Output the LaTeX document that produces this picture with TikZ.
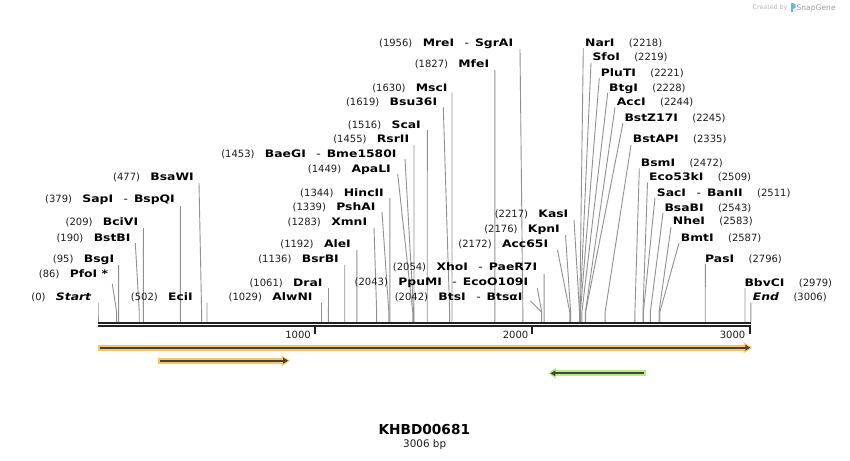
\documentclass[tikz,border=0pt]{standalone}
\usepackage{fontspec}
\setmainfont{DejaVu Sans}
\newfontfamily\nmfont[FakeStretch=1.2]{DejaVu Sans}
\usetikzlibrary{arrows.meta}
\definecolor{cutgray}{RGB}{145,145,145}
\definecolor{numcol}{RGB}{30,30,30}
\definecolor{rulecol}{RGB}{34,34,34}
\definecolor{haloor}{RGB}{250,196,100}
\definecolor{halogr}{RGB}{178,238,128}
\definecolor{corecol}{RGB}{70,66,60}
\definecolor{wmgray}{RGB}{185,185,185}
\definecolor{wmblue}{RGB}{95,185,235}
\tikzset{
  nm/.style={font=\nmfont\fontsize{10.3}{12}\selectfont\bfseries, inner sep=0pt, text=black},
  nu/.style={font=\fontsize{10}{12}\selectfont, inner sep=0pt, text=numcol},
  cut/.style={draw=cutgray, line width=0.9pt},
  rul/.style={draw=rulecol},
  core/.style={draw=corecol, line width=1.7pt},
  tick/.style={draw=rulecol, line width=2pt},
}
\newcommand\dsh{\hspace{10.5pt}{\mdseries-}\hspace{6pt}}
% left-type label: id, name right x, baseline y, number, name, line top x, line top y, bp
\newcommand\labL[8]{%
  \node[nm, anchor=base east] (#1) at (#2,#3) {#5};
  \node[nu, anchor=base east] (#1-n) at ([xshift=-10pt]#1.base west) {#4};
  \coordinate (#1-t) at (#6,#7);
  \coordinate (#1-k) at ({98+0.2172*#8},312);
  \coordinate (#1-b) at ({98+0.2172*#8},322);
  \draw[cut] (#1-t) -- (#1-k) -- (#1-b);}
% right-type label: id, name left x, baseline y, number, name, line top x, line top y, bp
\newcommand\labR[8]{%
  \node[nm, anchor=base west] (#1) at (#2,#3) {#5};
  \node[nu, anchor=base west] (#1-n) at ([xshift=14pt]#1.base east) {#4};
  \coordinate (#1-t) at (#6,#7);
  \coordinate (#1-k) at ({98+0.2172*#8},312);
  \coordinate (#1-b) at ({98+0.2172*#8},322);
  \draw[cut] (#1-t) -- (#1-k) -- (#1-b);}
\begin{document}
\begin{tikzpicture}[x=1pt,y=-1pt]
\useasboundingbox (0,0) rectangle (850,460);
\fill[white] (0,0) rectangle (850,460);

% cut sites, left group
\labL{st}{91.7}{300.8}{(0)}{\textit{Start}}{98}{302.5}{0}
\labL{pfo}{108.3}{277.3}{(86)}{PfoI *}{112.3}{284}{86}
\labL{bsg}{114.3}{262.8}{(95)}{BsgI}{118.6}{265}{95}
\labL{bstb}{130.7}{241}{(190)}{BstBI}{135.3}{243}{190}
\labL{bciv}{138.3}{225.5}{(209)}{BciVI}{143.4}{228}{209}
\labL{sap}{175}{202.8}{(379)}{SapI\dsh BspQI}{180.3}{206}{379}
\labL{bsaw}{194}{180.7}{(477)}{BsaWI}{199}{183}{477}
\labL{eci}{193}{300.8}{(502)}{EciI}{207}{302.5}{502}
\labL{alw}{312.7}{300.5}{(1029)}{AlwNI}{321.5}{302.5}{1029}
\labL{dra}{322.7}{286.1}{(1061)}{DraI}{328.45}{288}{1061}
\labL{bsrb}{339}{262.1}{(1136)}{BsrBI}{344.7}{265}{1136}
\labL{ale}{351}{247.8}{(1192)}{AleI}{356.9}{250}{1192}
\labL{xmn}{367.3}{225.5}{(1283)}{XmnI}{374}{227.5}{1283}
\labL{psh}{375.7}{210.5}{(1339)}{PshAI}{382}{212}{1339}
\labL{hinc}{384}{196.1}{(1344)}{HincII}{389.9}{198}{1344}
\labL{apa}{391}{172.8}{(1449)}{ApaLI}{397.7}{174}{1449}
\labL{bae}{396.7}{157.8}{(1453)}{BaeGI\dsh Bme1580I}{405}{159}{1453}
\labL{rsr}{409.3}{142.5}{(1455)}{RsrII}{414}{145}{1455}
\labL{sca}{421}{128.1}{(1516)}{ScaI}{427.3}{130}{1516}
\labL{bsu}{437.3}{105.8}{(1619)}{Bsu36I}{443.3}{107.5}{1619}
\labL{msc}{447.7}{91.1}{(1630)}{MscI}{452}{92.7}{1630}
\labL{mfe}{489.3}{67.8}{(1827)}{MfeI}{494.8}{70}{1827}
\labL{mre}{513.3}{46.5}{(1956)}{MreI\dsh SgrAI}{520}{49}{1956}
\labL{bts}{522.7}{300.5}{(2042)}{BtsI\dsh BtsαI}{530.5}{301}{2042}
\labL{ppu}{528.3}{285.5}{(2043)}{PpuMI\dsh EcoO109I}{537.3}{288.3}{2043}
\labL{xho}{537.3}{270.5}{(2054)}{XhoI\dsh PaeR7I}{544.1}{274}{2054}
\labL{acc}{548.3}{247.1}{(2172)}{Acc65I}{557.5}{250}{2172}
\labL{kpn}{560}{232.1}{(2176)}{KpnI}{565.5}{235}{2176}
\labL{kas}{568.5}{217.1}{(2217)}{KasI}{574}{220}{2217}

% cut sites, right group
\labR{nar}{585}{46.1}{(2218)}{NarI}{583.3}{48.3}{2218}
\labR{sfo}{592.3}{60.5}{(2219)}{SfoI}{591}{62.7}{2219}
\labR{plu}{600.7}{76.1}{(2221)}{PluTI}{599.3}{78}{2221}
\labR{btg}{609}{91.1}{(2228)}{BtgI}{607.7}{93}{2228}
\labR{acci}{616.7}{105.5}{(2244)}{AccI}{615}{107.5}{2244}
\labR{bstz}{624.3}{121.1}{(2245)}{BstZ17I}{623}{123}{2245}
\labR{bstap}{632.7}{142.8}{(2335)}{BstAPI}{631}{145}{2335}
\labR{bsm}{640.7}{166.5}{(2472)}{BsmI}{639.3}{168.5}{2472}
\labR{eco}{649}{180.5}{(2509)}{Eco53kI}{647.5}{182.5}{2509}
\labR{sac}{656.7}{196.1}{(2511)}{SacI\dsh BanII}{655}{198}{2511}
\labR{bsab}{664.3}{211.1}{(2543)}{BsaBI}{663}{213}{2543}
\labR{nhe}{672.7}{224.8}{(2583)}{NheI}{671}{227}{2583}
\labR{bmt}{680.7}{241.1}{(2587)}{BmtI}{679}{243}{2587}
\labR{pas}{705}{262.1}{(2796)}{PasI}{705.3}{264}{2796}
\labR{bbv}{744.3}{286.1}{(2979)}{BbvCI}{745}{288}{2979}
\labR{en}{752.7}{300.5}{(3006)}{\textit{End}}{750.9}{302.5}{3006}

% ruler
\coordinate (ra) at (98,323.2);
\coordinate (rb) at (751,323.2);
\coordinate (rc) at (98,326.4);
\coordinate (rd) at (751,326.4);
\draw[rul, line width=2.4pt] (ra) -- (rb);
\draw[rul, line width=2pt] (rc) -- (rd);
\coordinate (t1a) at (315,326); \coordinate (t1b) at (315,334);
\coordinate (t2a) at (532.2,326); \coordinate (t2b) at (532.2,334);
\coordinate (t3a) at (749.5,326); \coordinate (t3b) at (749.5,334);
\draw[tick] (t1a) -- (t1b);
\draw[tick] (t2a) -- (t2b);
\draw[tick] (t3a) -- (t3b);
\node[nu, anchor=base east] (l1000) at (311,338) {1000};
\node[nu, anchor=base east] (l2000) at (528.5,338) {2000};
\node[nu, anchor=base east] (l3000) at (745.5,338) {3000};

% features
\fill[haloor] (97.5,344.7) rectangle (744,350.7);
\fill[haloor] (743.5,342.2) -- (752.3,347.7) -- (743.5,353.2) -- cycle;
\coordinate (f1a) at (99.5,347.7); \coordinate (f1b) at (750.3,347.7);
\draw[core, -{Triangle[length=5pt,width=5.5pt]}] (f1a) -- (f1b);

\fill[haloor] (158,357.7) rectangle (282,363.7);
\fill[haloor] (281.5,355.2) -- (290,360.7) -- (281.5,366.2) -- cycle;
\coordinate (f2a) at (160,360.7); \coordinate (f2b) at (288.2,360.7);
\draw[core, -{Triangle[length=5pt,width=5.5pt]}] (f2a) -- (f2b);

\fill[halogr] (555,370.3) rectangle (645.6,376.3);
\fill[halogr] (555.5,367.8) -- (548.6,373.3) -- (555.5,378.8) -- cycle;
\coordinate (f3a) at (643.5,373.3); \coordinate (f3b) at (550.4,373.3);
\draw[core, -{Triangle[length=5pt,width=5.5pt]}] (f3a) -- (f3b);

% title
\node[font=\fontsize{13.7}{15}\selectfont\bfseries, inner sep=0pt, anchor=base] (title) at (424.3,434) {KHBD00681};
\node[font=\fontsize{10.4}{12}\selectfont, inner sep=0pt, anchor=base, text=numcol] (size) at (424.7,447.8) {3006 bp};

% watermark
\node[font=\fontsize{6.3}{7}\selectfont, inner sep=0pt, anchor=base west, text=wmgray] (wm1) at (752.5,9.8) {Created by};
\fill[wmblue] (790.5,3) rectangle (793,12.5);
\fill[wmblue] (793,3) -- (795.5,4.5) -- (795.5,7.5) -- (793,9) -- cycle;
\node[font=\fontsize{7.6}{8}\selectfont, inner sep=0pt, anchor=base west, text=wmgray!85!black] (wm2) at (796.3,10.5) {SnapGene};
\end{tikzpicture}
\end{document}
